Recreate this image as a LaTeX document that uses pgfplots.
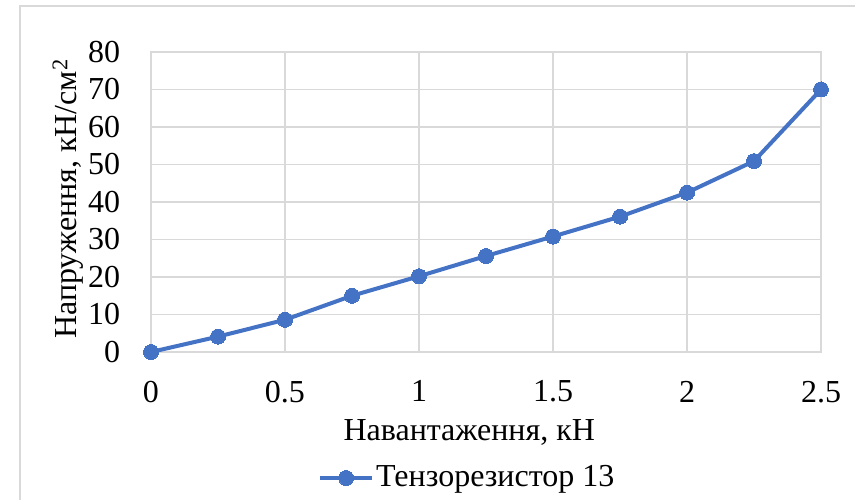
\documentclass[border=0pt]{standalone}
\usepackage{pgfplots}
\pgfplotsset{compat=1.18}
\usepackage{fontspec}
\setmainfont{Liberation Serif}
\newfontfamily\tnr{Liberation Serif}
\definecolor{linec}{HTML}{4472C4}
\definecolor{gridc}{HTML}{D9D9D9}
\begin{document}
\tnr\fontsize{32}{37}\selectfont
\begin{tikzpicture}
\path[use as bounding box] (0,0) rectangle (855pt,499pt);
\draw[gridc, line width=1.5pt] (20pt,-20pt) |- (880pt,493pt);
\begin{axis}[
  at={(151pt,147pt)}, anchor=south west,
  scale only axis, width=670pt, height=300pt,
  xmin=0, xmax=2.5, ymin=0, ymax=80,
  xtick={0,0.5,1,1.5,2,2.5},
  ytick={0,10,20,30,40,50,60,70,80},
  xticklabels={0,0.5,1,1.5,2,2.5},
  major tick length=0pt,
  grid=major,
  grid style={gridc, line width=1.5pt},
  axis line style={gridc, line width=1.5pt},
  /pgf/number format/assume math mode=true,
  tick label style={font=\tnr\fontsize{32}{37}\selectfont},
  xticklabel style={yshift=-18pt},
  yticklabel style={xshift=-20pt},
  label style={font=\tnr\fontsize{32}{37}\selectfont},
  xlabel={Навантаження, кН},
  ylabel={Напруження, кН/см\textsuperscript{2}},
  every axis x label/.style={at={(axis description cs:0.475,-0.267)}, anchor=center},
  every axis y label/.style={at={(axis description cs:-0.124,0.51)}, rotate=90, anchor=center},
  legend style={draw=none, fill=none, at={(axis description cs:0.472,-0.42)}, anchor=center,
    font=\tnr\fontsize{32}{37}\selectfont, inner sep=0pt},
  legend image code/.code={\draw[mark repeat=2,mark phase=2] plot coordinates {(0pt,0pt)(26pt,0pt)(52pt,0pt)};},
]
\addplot[linec, line width=4pt, mark=*, mark size=7.5pt, mark options={fill=linec, draw=linec, line width=0pt}]
coordinates {
(0,0) (0.25,4.1) (0.5,8.6) (0.75,15.0) (1,20.2) (1.25,25.6) (1.5,30.8) (1.75,36.1) (2,42.5) (2.25,50.9) (2.5,70.0)
};
\addlegendentry{Тензорезистор 13}
\end{axis}
\end{tikzpicture}
\end{document}
